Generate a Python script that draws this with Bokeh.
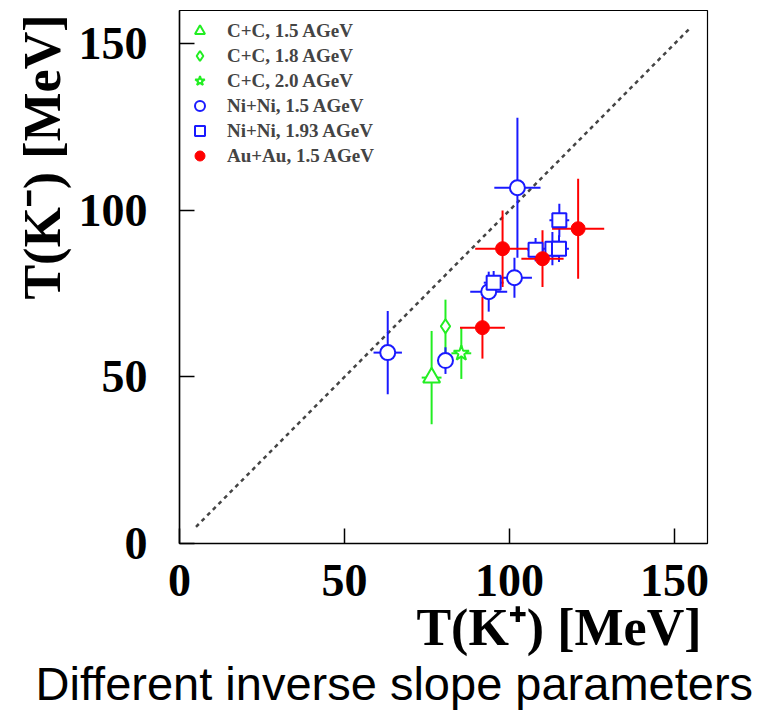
import numpy as np
from bokeh.plotting import figure
from bokeh.models import FixedTicker, Legend, LegendItem, Range1d, Title
from bokeh.embed import file_html
from bokeh.resources import INLINE

# ---- data (MeV) ----
cc15_x = [76.4]; cc15_y = [49.8]; cc15_xe = [3.0]; cc15_ye = [14.0]
cc18_x = [80.6]; cc18_y = [65.2]; cc18_xe = [0.0]; cc18_ye = [8.0]
cc20_x = [85.4]; cc20_y = [57.1]; cc20_xe = [3.0]; cc20_ye = [7.7]
ni15_x = [63.1, 80.6, 93.7, 101.5, 102.4]
ni15_y = [57.3, 54.9, 75.6, 79.8, 106.8]
ni15_xe = [4.3, 2.0, 5.6, 5.3, 7.0]
ni15_ye = [12.5, 4.0, 6.0, 6.0, 21.0]
ni193_x = [95.2, 107.9, 113.0, 115.0, 115.1]
ni193_y = [78.3, 88.2, 88.5, 88.5, 97.0]
ni193_xe = [3.0, 2.5, 3.0, 3.0, 3.0]
ni193_ye = [3.5, 3.5, 5.0, 4.0, 5.0]
au15_x = [91.8, 97.9, 110.0, 120.8]
au15_y = [64.8, 88.5, 85.5, 94.5]
au15_xe = [6.8, 8.3, 6.4, 7.9]
au15_ye = [9.3, 11.5, 8.5, 15.0]
diag = [5, 155]
ticks = [0, 50, 100, 150]
labels = ["C+C, 1.5 AGeV", "C+C, 1.8 AGeV", "C+C, 2.0 AGeV",
          "Ni+Ni, 1.5 AGeV", "Ni+Ni, 1.93 AGeV", "Au+Au, 1.5 AGeV"]

GREEN = "#22ee22"
BLUE = "#1a1aff"
RED = "#ff0000"
SERIF = "Liberation Serif"

p = figure(width=781, height=716, output_backend="svg", toolbar_location=None,
           x_range=Range1d(0, 160), y_range=Range1d(0, 160),
           min_border_left=179, min_border_right=74, min_border_top=10,
           min_border_bottom=173)
p.grid.visible = False
p.outline_line_color = "black"
p.outline_line_width = 1.2
p.background_fill_color = "white"
p.border_fill_color = "white"

for ax in (p.xaxis[0], p.yaxis[0]):
    ax.ticker = FixedTicker(ticks=ticks)
    ax.major_tick_in = 15
    ax.major_tick_out = 0
    ax.minor_tick_line_color = None
    ax.axis_line_width = 1.5
    ax.major_tick_line_width = 1.5
    ax.major_label_text_font = SERIF
    ax.major_label_text_font_style = "bold"
    ax.major_label_text_font_size = "46px"
    ax.major_label_text_color = "black"

p.xaxis[0].major_label_standoff = 21
p.yaxis[0].major_label_standoff = 32

# axis titles (as side titles so they can be end-aligned)
xlab = Title(text="T(K\u207A) [MeV]", align="right", offset=6,
             text_font=SERIF, text_font_style="bold", text_font_size="52px",
             text_color="black", standoff=-4)
p.add_layout(xlab, "below")
ylab = Title(text="T(K\u207B) [MeV]", align="right", offset=4,
             text_font=SERIF, text_font_style="bold", text_font_size="52px",
             text_color="black", standoff=9)
p.add_layout(ylab, "left")

# diagonal
p.line(diag, diag, line_color="#444444", line_width=2.5, line_dash="4 4")

def errbars(x, y, xe, ye, color):
    x = np.array(x); y = np.array(y); xe = np.array(xe); ye = np.array(ye)
    p.segment(x - xe, y, x + xe, y, line_color=color, line_width=2)
    p.segment(x, y - ye, x, y + ye, line_color=color, line_width=2)

errbars(cc15_x, cc15_y, cc15_xe, cc15_ye, GREEN)
errbars(cc18_x, cc18_y, cc18_xe, cc18_ye, GREEN)
errbars(cc20_x, cc20_y, cc20_xe, cc20_ye, GREEN)
errbars(ni15_x, ni15_y, ni15_xe, ni15_ye, BLUE)
errbars(ni193_x, ni193_y, ni193_xe, ni193_ye, BLUE)
errbars(au15_x, au15_y, au15_xe, au15_ye, RED)

r1 = p.scatter(cc15_x, cc15_y, marker="triangle", size=17, line_color=GREEN,
               fill_color="white", line_width=2)
r2 = p.scatter(cc18_x, cc18_y, marker="diamond", size=14, line_color=GREEN,
               fill_color="white", line_width=2)
r3 = p.scatter(cc20_x, cc20_y, marker="star", size=16, line_color=GREEN,
               fill_color="white", line_width=2)
r4 = p.scatter(ni15_x, ni15_y, marker="circle", size=15, line_color=BLUE,
               fill_color="white", line_width=2)
r5 = p.scatter(ni193_x, ni193_y, marker="square", size=14, line_color=BLUE,
               fill_color="white", line_width=2)
r6 = p.scatter(au15_x, au15_y, marker="circle", size=14, line_color=RED,
               fill_color=RED, line_width=1)

legend = Legend(items=[LegendItem(label=l, renderers=[r]) for l, r in
                       zip(labels, [r1, r2, r3, r4, r5, r6])],
                location="top_left")
legend.border_line_color = None
legend.background_fill_alpha = 0
legend.label_text_font = SERIF
legend.label_text_font_style = "bold"
legend.label_text_font_size = "19px"
legend.glyph_width = 25
legend.glyph_height = 25
legend.label_height = 20
legend.spacing = 0
legend.padding = 10
legend.margin = 8
legend.label_standoff = 15
p.add_layout(legend)

caption = Title(text="Different inverse slope parameters", align="left",
                offset=-144, text_font="Liberation Sans", text_font_size="47px",
                text_font_style="normal", text_color="black", standoff=3)
p.add_layout(caption, "below")

open("out.html", "w").write(file_html(p, INLINE))
